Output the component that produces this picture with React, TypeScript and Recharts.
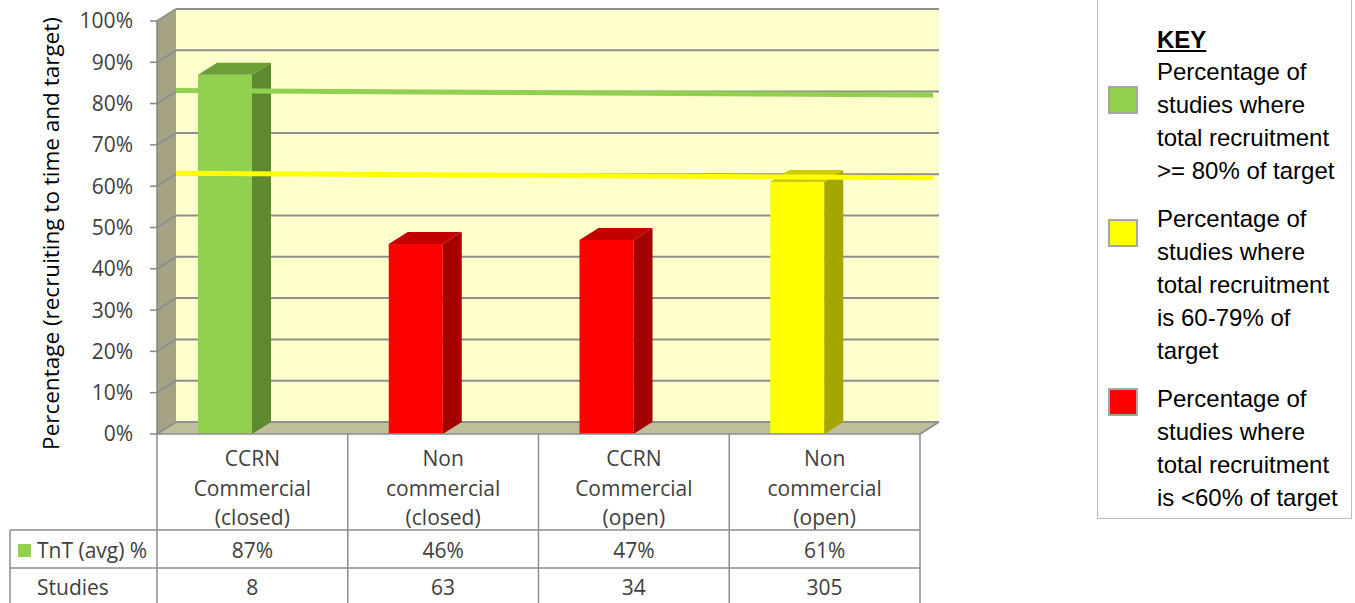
import React from 'react';
import { BarChart, Bar, XAxis, YAxis, CartesianGrid, ReferenceArea, ReferenceLine } from 'recharts';

// chart data
const categories = [
  'CCRN\nCommercial\n(closed)',
  'Non\ncommercial\n(closed)',
  'CCRN\nCommercial\n(open)',
  'Non\ncommercial\n(open)',
];
const tntAvg = [87, 46, 47, 61];
const studyCounts = [8, 63, 34, 305];
const yTicks = [0, 10, 20, 30, 40, 50, 60, 70, 80, 90, 100];
const targetLevels = [80, 60];
const rowHeaders = ['TnT (avg) %', 'Studies'];

const keyTitle = 'KEY';
const keyColors = ['#92d050', '#ffff00', '#ff0000'];
const keyTexts = [
  ['Percentage of', 'studies where', 'total recruitment', '>= 80% of target'],
  ['Percentage of', 'studies where', 'total recruitment', 'is 60-79% of', 'target'],
  ['Percentage of', 'studies where', 'total recruitment', 'is <60% of target'],
];

const data = categories.map((name, i) => ({ name, tnt: tntAvg[i], studies: studyCounts[i] }));

// layout
const W = 1355;
const H = 603;
const PLOT_LEFT = 157;
const PLOT_RIGHT = 920;
const BAND = (PLOT_RIGHT - PLOT_LEFT) / categories.length;
const DX = 19;
const DY = 12;
const HEADER_W = 147;
const FONT = '"Open Sans", sans-serif';
const TEXT = '#404040';
const LINE = '#8c8c8c';

const palette = {
  green: { front: '#92d050', side: '#5e8a2f', top: '#6d9e38' },
  yellow: { front: '#ffff00', side: '#a6a600', top: '#cccc00' },
  red: { front: '#ff0000', side: '#a50000', top: '#c40000' },
};

const bandColor = (v: number) => (v >= 80 ? palette.green : v >= 60 ? palette.yellow : palette.red);

const Walls = (p: any) => {
  const { x, y, width, height } = p;
  const b = y + height;
  const r = x + width;
  return (
    <g>
      <polygon points={`${x},${b} ${x},${y} ${x + DX},${y - DY} ${x + DX},${b - DY}`} fill="#a6a384" />
      <rect x={x + DX} y={y - DY} width={width} height={height} fill="#ffffcc" />
      <polygon points={`${x},${b} ${x + DX},${b - DY} ${r + DX},${b - DY} ${r},${b}`} fill="#c0bf9b" />
      <line x1={r} y1={b} x2={r + DX} y2={b - DY} stroke={LINE} strokeWidth={1.5} />
    </g>
  );
};

const gridLine = (p: any) => {
  const { x1, x2, y1 } = p;
  return (
    <g key={p.key ?? `g-${y1}`}>
      <line x1={x1 + DX} y1={y1 - DY} x2={x2 + DX} y2={y1 - DY} stroke="#8e8e8e" strokeWidth={2} />
      <line x1={x1} y1={y1} x2={x1 + DX} y2={y1 - DY} stroke="#8e8e8e" strokeWidth={2} />
    </g>
  );
};

const Bar3D = (p: any) => {
  const { x, y, width, height, payload } = p;
  const c = bandColor(payload.tnt);
  const fx = x - width / 2;
  const b = y + height;
  const rx = fx + width;
  return (
    <g>
      <rect x={fx} y={y} width={width} height={height} fill={c.front} />
      <polygon points={`${rx},${y} ${rx + DX},${y - DY} ${rx + DX},${b - DY} ${rx},${b}`} fill={c.side} />
      <polygon points={`${fx},${y} ${fx + DX},${y - DY} ${rx + DX},${y - DY} ${rx},${y}`} fill={c.top} />
    </g>
  );
};

const TargetLine = (color: string) => (p: any) => {
  const { x1, y1, x2, y2 } = p;
  return (
    <line x1={x1 + DX} y1={y1 - 13} x2={x2 + 13} y2={y2 - 8.5} stroke={color} strokeWidth={5} />
  );
};

const TableCell = (p: any) => {
  const { x, y, payload } = p;
  const i = p.index ?? payload.index;
  const left = x - BAND / 2;
  const right = x + BAND / 2;
  const lines = String(payload.value).split('\n');
  const txt = { fontFamily: FONT, fontSize: 21, fill: TEXT, textAnchor: 'middle' as const, dominantBaseline: 'central' as const };
  const row1 = y + 96;
  const row2 = y + 134;
  return (
    <g>
      <line x1={left} y1={y} x2={right} y2={y} stroke={LINE} strokeWidth={1.5} />
      <line x1={right} y1={y} x2={right} y2={H} stroke={LINE} strokeWidth={1.5} />
      {i === 0 && <line x1={left} y1={y} x2={left} y2={H} stroke={LINE} strokeWidth={1.5} />}
      {lines.map((t, k) => (
        <text key={k} x={x} y={y + 24 + k * 29.5} {...txt}>{t}</text>
      ))}
      <text x={x} y={y + 116} {...txt}>{tntAvg[i]}%</text>
      <text x={x} y={y + 153} {...txt}>{studyCounts[i]}</text>
      {i === 0 && (
        <g>
          <line x1={left - HEADER_W} y1={row1} x2={right} y2={row1} stroke={LINE} strokeWidth={1.5} />
          <line x1={left - HEADER_W} y1={row2} x2={right} y2={row2} stroke={LINE} strokeWidth={1.5} />
          <line x1={left - HEADER_W} y1={row1} x2={left - HEADER_W} y2={H} stroke={LINE} strokeWidth={1.5} />
          <rect x={left - HEADER_W + 8} y={y + 110} width={13} height={13} fill={palette.green.front} />
          <text x={left - HEADER_W + 27} y={y + 116} {...txt} textAnchor="start">{rowHeaders[0]}</text>
          <text x={left - HEADER_W + 27} y={y + 153} {...txt} textAnchor="start">{rowHeaders[1]}</text>
        </g>
      )}
      {i !== 0 && (
        <g>
          <line x1={left} y1={row1} x2={right} y2={row1} stroke={LINE} strokeWidth={1.5} />
          <line x1={left} y1={row2} x2={right} y2={row2} stroke={LINE} strokeWidth={1.5} />
        </g>
      )}
    </g>
  );
};

const YTitle = (p: any) => {
  const vb = p.viewBox;
  const cx = vb.x + 50;
  const cy = vb.y + vb.height / 2 + 6;
  return (
    <text x={cx} y={cy} transform={`rotate(-90, ${cx}, ${cy})`} textAnchor="middle" dominantBaseline="central"
      fontFamily={FONT} fontSize={22.5} fill="#000">
      Percentage (recruiting to time and target)
    </text>
  );
};

const swatchTops = [85, 218, 387];
const groupTops = [56, 203, 383];

const KeyBox = () => (
  <div style={{
    position: 'absolute', left: 1097, top: -2, width: 255, height: 521, boxSizing: 'border-box',
    border: '1.5px solid #bfbfbf', fontFamily: '"Liberation Sans", Arial, sans-serif', fontSize: 24, color: '#000',
  }}>
    <div style={{ position: 'absolute', left: 59, top: 24, lineHeight: '33px', fontWeight: 'bold', textDecoration: 'underline' }}>
      {keyTitle}
    </div>
    {keyTexts.map((lines, k) => (
      <React.Fragment key={k}>
        <div style={{
          position: 'absolute', left: 10, top: swatchTops[k] + 2, width: 30, height: 28, boxSizing: 'border-box',
          background: keyColors[k], border: '2px solid #a6a6a6',
        }} />
        <div style={{ position: 'absolute', left: 59, top: groupTops[k], lineHeight: '33px', whiteSpace: 'nowrap' }}>
          {lines.map((t, j) => <div key={j}>{t}</div>)}
        </div>
      </React.Fragment>
    ))}
  </div>
);

export default function App() {
  return (
    <div style={{ position: 'absolute', left: 0, top: 0, width: W, height: H, background: '#fff', overflow: 'hidden' }}>
      <BarChart width={W} height={H} data={data} margin={{ top: 21, right: W - PLOT_RIGHT, bottom: 9, left: 0 }}>
        <ReferenceArea y1={0} y2={100} shape={Walls} zIndex={-200} ifOverflow="visible" />
        <CartesianGrid vertical={false} horizontal={gridLine} />
        <XAxis dataKey="name" axisLine={false} tickLine={false} tickSize={0} tickMargin={0} height={160}
          interval={0} tick={TableCell} />
        <YAxis width={PLOT_LEFT} domain={[0, 100]} ticks={yTicks} interval={0} tickFormatter={(v) => `${v}%`}
          axisLine={{ stroke: '#868686', strokeWidth: 1.5 }} tickLine={{ stroke: '#868686', strokeWidth: 1.5 }}
          tickSize={7} tickMargin={17} tick={{ fontFamily: FONT, fontSize: 21, fill: TEXT }} label={YTitle} />
        <Bar dataKey="tnt" barSize={54} shape={Bar3D} isAnimationActive={false} />
        <ReferenceLine y={targetLevels[0]} shape={TargetLine(palette.green.front)} />
        <ReferenceLine y={targetLevels[1]} shape={TargetLine('#ffff00')} />
      </BarChart>
      <KeyBox />
    </div>
  );
}
